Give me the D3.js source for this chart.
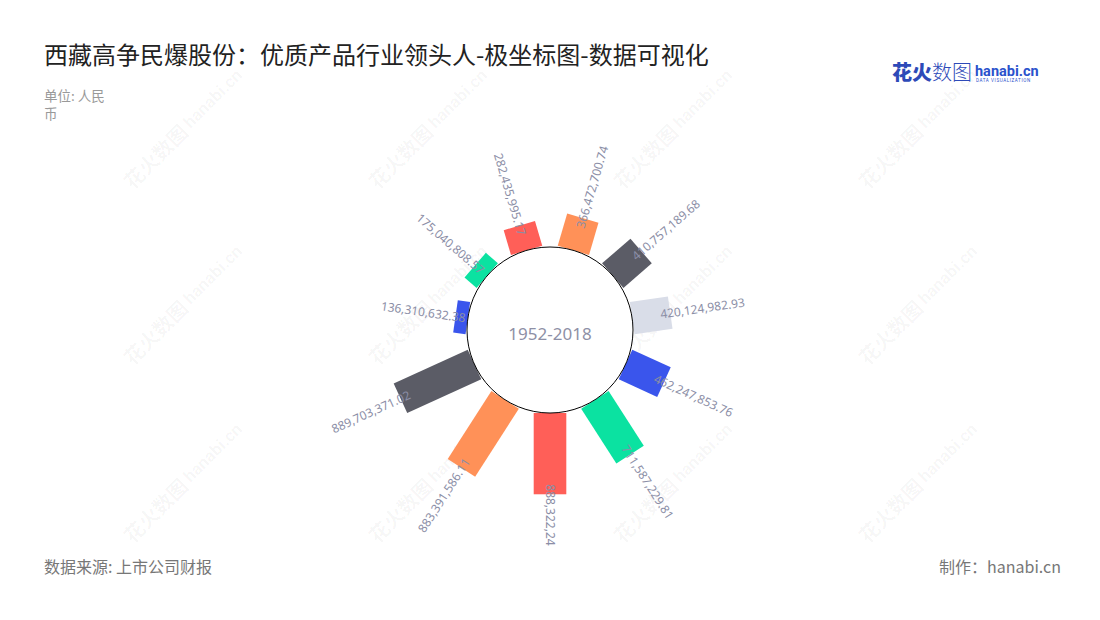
<!DOCTYPE html>
<html><head><meta charset="utf-8">
<script src="https://cdn.jsdelivr.net/npm/d3@7"></script>
<style>
body{margin:0;background:#fff;}
svg{display:block;font-family:"Noto Sans CJK SC","Noto Sans",sans-serif;}
</style>
</head><body>
<svg id="c" width="1100" height="620"></svg>
<script>
// ---- data ----
const categories = ["p1","p2","p3","p4","p5","p6","p7","p8","p9","p10","p11"];
const values = [136310632.38, 175040808.57, 282435995.17, 366472700.74, 410757189.68, 420124982.93, 462247853.76, 711587229.81, 888322240, 883391586.11, 889703371.02];
const labelTexts = ["136,310,632.38","175,040,808.57","282,435,995.17","366,472,700.74","410,757,189.68","420,124,982.93","462,247,853.76","711,587,229.81","888,322,24","883,391,586.11","889,703,371.02"];
const palette = ["#3a55ec","#0be2a1","#ff5f58","#ff9158","#5b5c66","#d9dde8"];
const radiusTicks = [0, 1000000000];
const periodLabel = "1952-2018";
const title = "西藏高争民爆股份：优质产品行业领头人-极坐标图-数据可视化";

const data = categories.map((c,i)=>({cat:c, value:values[i], label:labelTexts[i], color:palette[i%palette.length]}));

const svg = d3.select("#c");

// ---- watermarks ----
const wm = svg.append("g").attr("class","watermark");
const wmX = [189, 434, 679, 924], wmY = [122, 298, 476];
wmY.forEach(y=>wmX.forEach(x=>{
  const t = wm.append("g").attr("transform",`translate(${x},${y}) rotate(-45)`);
  t.append("text").attr("x",-8).attr("text-anchor","end").attr("dominant-baseline","central")
    .attr("font-size",20).attr("font-weight",700).attr("fill","#000").attr("fill-opacity",0.04).text("花火数图");
  t.append("text").attr("x",-4).attr("dominant-baseline","central")
    .attr("font-size",17).attr("font-weight",700).attr("font-family","Roboto, sans-serif").attr("fill","#000").attr("fill-opacity",0.04).text("hanabi.cn");
}));

// ---- titles ----
svg.append("text").attr("x",44).attr("y",64).attr("font-size",24).attr("fill","#222").text(title);
svg.append("text").attr("x",44).attr("y",101).attr("font-size",13.5).attr("fill","#999").text("单位: 人民");
svg.append("text").attr("x",44).attr("y",119).attr("font-size",13.5).attr("fill","#999").text("币");
svg.append("text").attr("x",44).attr("y",573).attr("font-size",16).attr("fill","#777").text("数据来源: 上市公司财报");
svg.append("text").attr("x",1061).attr("y",573).attr("text-anchor","end").attr("font-size",16).attr("fill","#777").text("制作：hanabi.cn");

// logo
const logo = svg.append("g");
logo.append("text").attr("x",892).attr("y",80).attr("font-size",20).attr("font-weight",900).attr("fill","#2d4ab8").text("花火");
logo.append("text").attr("x",932).attr("y",80).attr("font-size",20).attr("font-weight",300).attr("fill","#2d4ab8").text("数图");
logo.append("text").attr("x",975).attr("y",76).attr("font-size",14.5).attr("font-weight",700).attr("font-family","Roboto, sans-serif").attr("fill","#2b52cc").text("hanabi.cn");
logo.append("text").attr("x",976).attr("y",82).attr("font-size",4.5).attr("font-family","Roboto, sans-serif").attr("letter-spacing",0.6).attr("fill","#2b52cc").text("DATA VISUALIZATION");

// ---- polar chart ----
const cx = 550, cy = 330, innerR = 83;
const step = 2*Math.PI/categories.length;
const start = 8*step;
const angle = d3.scaleBand().domain(categories).range([start, start + 2*Math.PI]);
const r = d3.scaleLinear().domain(d3.extent(radiusTicks)).range([innerR, innerR + 91.5]);
const deg = a => ((a*180/Math.PI) % 360 + 360) % 360;
const mid = d => deg(angle(d.cat) + angle.bandwidth()/2);
const barW = 32.6;

const g = svg.append("g").attr("transform",`translate(${cx},${cy})`);

g.selectAll("rect.bar").data(data).join("rect").attr("class","bar")
  .attr("x",-barW/2).attr("width",barW)
  .attr("y",d=>-r(d.value)).attr("height",d=>r(d.value)-r(0))
  .attr("fill",d=>d.color)
  .attr("transform",d=>`rotate(${mid(d)})`);

g.append("circle").attr("r",innerR).attr("fill","#fff").attr("stroke","#000").attr("stroke-width",1);

g.append("text").attr("y",3).attr("text-anchor","middle").attr("dominant-baseline","central")
  .attr("font-size",17).attr("font-family","'Noto Sans', sans-serif").attr("fill","#8e90a6").text(periodLabel);

g.selectAll("text.lbl").data(data).join("text").attr("class","lbl")
  .each(function(d){
    const a = mid(d);
    const right = a <= 180.001;
    const rr = r(d.value) - 10;
    d3.select(this)
      .attr("transform", right ? `rotate(${a-90}) translate(${rr},0)` : `rotate(${a+90}) translate(${-rr},0)`)
      .attr("text-anchor", right ? "start" : "end");
  })
  .attr("dominant-baseline","central")
  .attr("font-size",12).attr("font-family","'Noto Sans', sans-serif")
  .attr("fill","#8b8ea6")
  .text(d=>d.label);
</script>
</body></html>
